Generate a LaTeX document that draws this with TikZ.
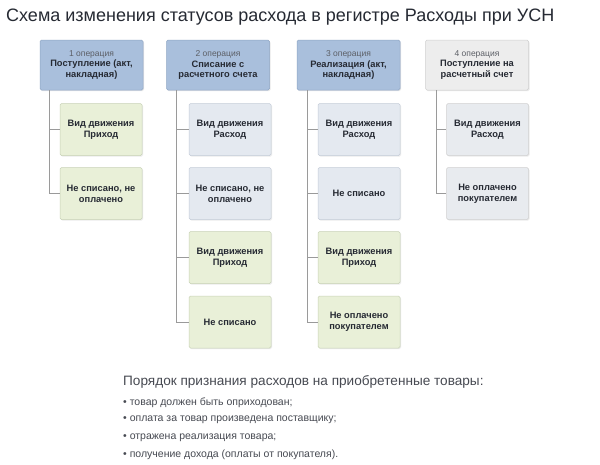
\documentclass[tikz,border=0pt]{standalone}
\usepackage{fontspec}
\setmainfont{Liberation Sans}
\usetikzlibrary{shadows}
\definecolor{hdrblue}{HTML}{A9BFDC}
\definecolor{hdrbord}{HTML}{8FA6C4}
\definecolor{hdrgrey}{HTML}{EDEDED}
\definecolor{hdrgreyb}{HTML}{D0D0D0}
\definecolor{kidgreen}{HTML}{E9F0D8}
\definecolor{kidgreenb}{HTML}{C8D2B6}
\definecolor{kidblue}{HTML}{E4E9F0}
\definecolor{kidblueb}{HTML}{C4CCD8}
\definecolor{txtdark}{HTML}{262A33}
\definecolor{linegrey}{HTML}{9A9A9A}
\tikzset{
  hdrbox/.style={rectangle, rounded corners=1.5pt, minimum width=103pt, minimum height=50pt,
    align=center, font=\fontsize{9.3}{10.5}\selectfont\bfseries, text=txtdark, inner sep=1pt,
    drop shadow={opacity=0.18, shadow xshift=1pt, shadow yshift=-1.2pt}},
  bluehdr/.style={hdrbox, fill=hdrblue, draw=hdrbord, line width=0.5pt},
  greyhdr/.style={hdrbox, fill=hdrgrey, draw=hdrgreyb, line width=0.5pt},
  kidbox/.style={rectangle, rounded corners=1.5pt, minimum width=82pt, minimum height=52pt,
    align=center, font=\fontsize{9.3}{11}\selectfont\bfseries, text=txtdark, inner sep=1pt,
    drop shadow={opacity=0.15, shadow xshift=1pt, shadow yshift=-1.2pt}},
  greenkid/.style={kidbox, fill=kidgreen, draw=kidgreenb, line width=0.5pt},
  bluekid/.style={kidbox, fill=kidblue, draw=kidblueb, line width=0.5pt},
  greykid/.style={kidbox, fill=kidblue!60!hdrgrey, draw=hdrgreyb, line width=0.5pt},
  conn/.style={draw=linegrey, line width=0.6pt},
  listtxt/.style={anchor=west, font=\fontsize{10.5}{12}\selectfont, text=txtdark!85}
}
\newcommand{\opnum}[1]{{\fontsize{8.5}{10.5}\selectfont\mdseries\color{txtdark!75}#1}}
\begin{document}
\begin{tikzpicture}[x=1pt,y=-1pt]
\useasboundingbox[fill=white] (0,0) rectangle (600,464);

% title
\node[anchor=west, font=\fontsize{18}{20}\selectfont, text=txtdark, inner sep=0pt] (title) at (6,17)
  {Схема изменения статусов расхода в регистре Расходы при УСН};

% headers
\node[bluehdr] (h1) at (91.5,65) {\opnum{1 операция}\\Поступление (акт,\\накладная)};
\node[bluehdr] (h2) at (218,65) {\opnum{2 операция}\\Списание с\\расчетного счета};
\node[bluehdr] (h3) at (348.5,65) {\opnum{3 операция}\\Реализация (акт,\\накладная)};
\node[greyhdr] (h4) at (477,65) {\opnum{4 операция}\\Поступление на\\расчетный счет};

% column 1
\node[greenkid] (c11) at (101,129.5) {Вид движения\\Приход};
\node[greenkid] (c12) at (101,193.5) {Не списано, не\\оплачено};
% column 2
\node[bluekid] (c21) at (230,129.5) {Вид движения\\Расход};
\node[bluekid] (c22) at (230,193.5) {Не списано, не\\оплачено};
\node[greenkid] (c23) at (230,257.5) {Вид движения\\Приход};
\node[greenkid] (c24) at (230,322) {Не списано};
% column 3
\node[bluekid] (c31) at (359,129.5) {Вид движения\\Расход};
\node[bluekid] (c32) at (359,193.5) {Не списано};
\node[greenkid] (c33) at (359,257.5) {Вид движения\\Приход};
\node[greenkid] (c34) at (359,322) {Не оплачено\\покупателем};
% column 4
\node[greykid] (c41) at (487.5,129.5) {Вид движения\\Расход};
\node[greykid] (c42) at (487.5,193.5) {Не оплачено\\покупателем};

% connectors
\foreach \k in {c11,c12} \draw[conn] ([xshift=10pt]h1.south west) |- (\k.west);
\foreach \k in {c21,c22,c23,c24} \draw[conn] ([xshift=10.5pt]h2.south west) |- (\k.west);
\foreach \k in {c31,c32,c33,c34} \draw[conn] ([xshift=10.5pt]h3.south west) |- (\k.west);
\foreach \k in {c41,c42} \draw[conn] ([xshift=11pt]h4.south west) |- (\k.west);

% bottom text
\node[anchor=west, font=\fontsize{13.6}{15}\selectfont, text=txtdark!85, inner sep=0pt] (ptitle) at (123,382)
  {Порядок признания расходов на приобретенные товары:};
\node[listtxt, inner sep=0pt] (l1) at (123,402.5) {• товар должен быть оприходован;};
\node[listtxt, inner sep=0pt] (l2) at (123,420) {• оплата за товар произведена поставщику;};
\node[listtxt, inner sep=0pt] (l3) at (123,437.5) {• отражена реализация товара;};
\node[listtxt, inner sep=0pt] (l4) at (123,455) {• получение дохода (оплаты от покупателя).};
\end{tikzpicture}
\end{document}
